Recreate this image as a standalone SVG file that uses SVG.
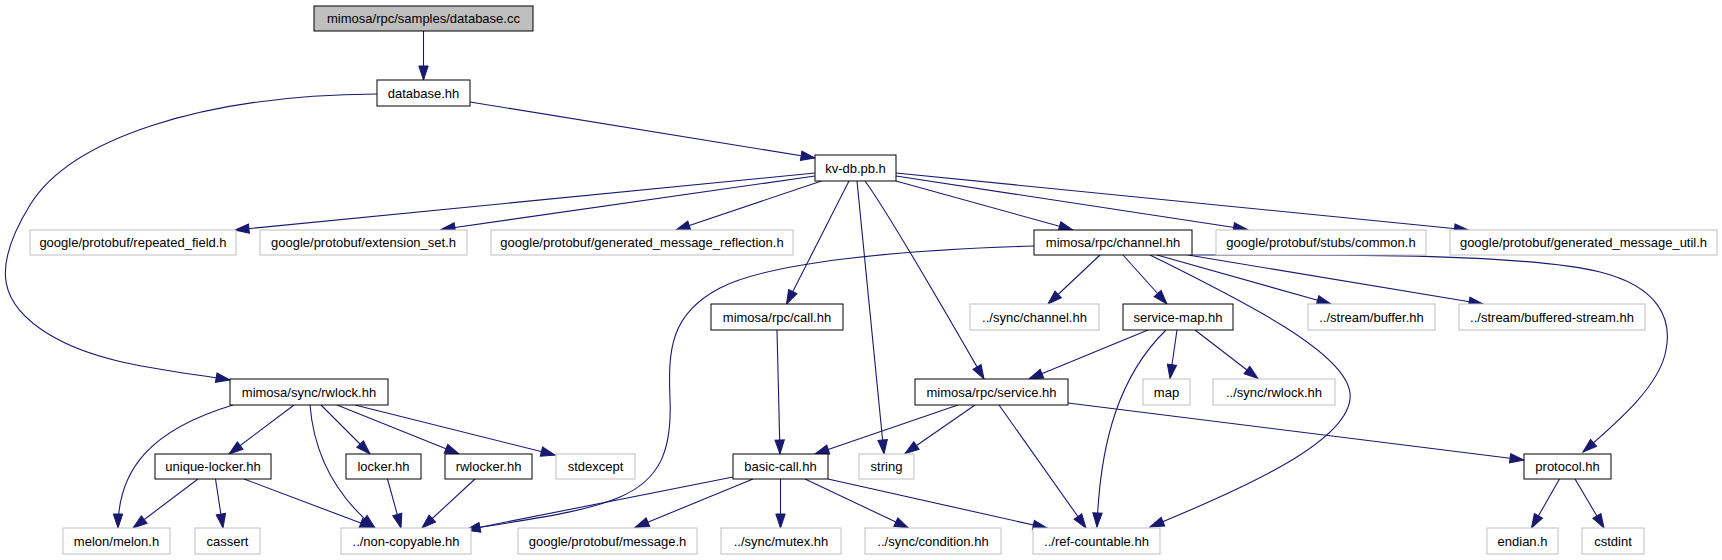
<svg xmlns="http://www.w3.org/2000/svg" width="1722" height="560" viewBox="0 0 1722 560">
<style>
.e{fill:none;stroke:#191970;stroke-width:1.1;marker-end:url(#arr)}
.n rect{fill:#fff;stroke:#000;stroke-width:1}
.x rect{fill:#fff;stroke:#bfbfbf;stroke-width:1}
.r rect{fill:#bfbfbf;stroke:#000;stroke-width:1}
text{font-family:"Liberation Sans",Arial,Helvetica,sans-serif;font-size:13px;fill:#000;text-anchor:middle}
</style>
<defs>
<marker id="arr" markerWidth="16" markerHeight="12" refX="14" refY="5" orient="auto" markerUnits="userSpaceOnUse" overflow="visible">
<path d="M0,0.3 L14,5 L0,9.7 z" fill="#191970" stroke="#191970" stroke-width="1"/>
</marker>
</defs>
<rect width="1722" height="560" fill="#fff"/>
<g id="connectors">
<path class="e" d="M423.5,31 L423.5,80"/>
<path class="e" d="M470,102 L815,158"/>
<path class="e" d="M377,94 C200,95 70,140 30,205 C-10,270 0,305 50,335 C100,365 170,370 230,380"/>
<path class="e" d="M815,173 L235,230"/>
<path class="e" d="M815,176 L441,229.5"/>
<path class="e" d="M821.5,181 L676,230"/>
<path class="e" d="M849,181 L786.5,304"/>
<path class="e" d="M857,181 L884,454"/>
<path class="e" d="M865,181 C890,215 950,320 984,379"/>
<path class="e" d="M896,181 L1073,230"/>
<path class="e" d="M896,176 L1247.5,229.5"/>
<path class="e" d="M896,173 L1468.5,230"/>
<path class="e" d="M1034,246 C900,250 770,262 720,288 C670,314 668,350 670,400 C672,450 660,480 620,497 C580,514 520,520 466,530"/>
<path class="e" d="M1100,255 L1048,304"/>
<path class="e" d="M1123,255 L1167,304"/>
<path class="e" d="M1150,255 C1230,295 1345,350 1350,393 C1355,440 1240,490 1150,527"/>
<path class="e" d="M1157,255 L1331,304"/>
<path class="e" d="M1188,255 L1483,304"/>
<path class="e" d="M1191,255 C1300,255 1520,252 1600,272 C1660,287 1672,320 1666,350 C1660,385 1620,420 1583,452"/>
<path class="e" d="M1148,330 L1029,379"/>
<path class="e" d="M1166,330 C1120,375 1100,440 1097,527"/>
<path class="e" d="M1177,330 L1170,378.5"/>
<path class="e" d="M1195,330 L1258,378.5"/>
<path class="e" d="M777,330 L780,454"/>
<path class="e" d="M958,405 L815,454"/>
<path class="e" d="M975,405 L905,453.5"/>
<path class="e" d="M999,405 L1086,528"/>
<path class="e" d="M1068,403 L1524,460"/>
<path class="e" d="M233,405 C150,430 118,470 118,528"/>
<path class="e" d="M294,405 L229,454"/>
<path class="e" d="M310,405 C314,455 335,495 375,528"/>
<path class="e" d="M321,405 L370,454"/>
<path class="e" d="M337,405 L459,454"/>
<path class="e" d="M355,405 L555,455"/>
<path class="e" d="M198,479 L133,528"/>
<path class="e" d="M215.5,479 L223,528"/>
<path class="e" d="M244,479 L374,528"/>
<path class="e" d="M387.5,479 L401,528"/>
<path class="e" d="M475,479 L422,528"/>
<path class="e" d="M733,477 L466,530"/>
<path class="e" d="M753,479 L635,527.5"/>
<path class="e" d="M780.5,479 L780.5,528"/>
<path class="e" d="M805,479 L908.5,528"/>
<path class="e" d="M828,479 L1047,528"/>
<path class="e" d="M1559.5,479 L1531.5,528"/>
<path class="e" d="M1575,479 L1604,528"/>
</g>
<g id="node_root" class="r"><rect x="314" y="6" width="219" height="25"/><text x="423.5" y="23">mimosa/rpc/samples/database.cc</text></g>
<g id="node_database_hh" class="n"><rect x="377" y="80" width="93" height="26"/><text x="423.5" y="97.5">database.hh</text></g>
<g id="node_kvdb" class="n"><rect x="815" y="155" width="81" height="26"/><text x="855.5" y="172.5">kv-db.pb.h</text></g>
<g id="node_repeated" class="x"><rect x="30" y="230" width="206" height="25"/><text x="133" y="247">google/protobuf/repeated_field.h</text></g>
<g id="node_extension" class="x"><rect x="260" y="230" width="207" height="25"/><text x="363.5" y="247">google/protobuf/extension_set.h</text></g>
<g id="node_reflection" class="x"><rect x="491" y="230" width="302" height="25"/><text x="642" y="247">google/protobuf/generated_message_reflection.h</text></g>
<g id="node_channel" class="n"><rect x="1034" y="230" width="158" height="25"/><text x="1113" y="247">mimosa/rpc/channel.hh</text></g>
<g id="node_stubs" class="x"><rect x="1216" y="230" width="210" height="25"/><text x="1321" y="247">google/protobuf/stubs/common.h</text></g>
<g id="node_util" class="x"><rect x="1450" y="230" width="267" height="25"/><text x="1583.5" y="247">google/protobuf/generated_message_util.h</text></g>
<g id="node_call" class="n"><rect x="711" y="304" width="132" height="26"/><text x="777" y="321.5">mimosa/rpc/call.hh</text></g>
<g id="node_sync_channel" class="x"><rect x="970" y="304" width="129" height="26"/><text x="1034.5" y="321.5">../sync/channel.hh</text></g>
<g id="node_service_map" class="n"><rect x="1123" y="304" width="110" height="26"/><text x="1178" y="321.5">service-map.hh</text></g>
<g id="node_buffer" class="x"><rect x="1308" y="304" width="127" height="26"/><text x="1371.5" y="321.5">../stream/buffer.hh</text></g>
<g id="node_buffered" class="x"><rect x="1459" y="304" width="186" height="26"/><text x="1552" y="321.5">../stream/buffered-stream.hh</text></g>
<g id="node_rwlock" class="n"><rect x="230" y="379" width="158" height="26"/><text x="309" y="396.5">mimosa/sync/rwlock.hh</text></g>
<g id="node_service" class="n"><rect x="915" y="379" width="153" height="26"/><text x="991.5" y="396.5">mimosa/rpc/service.hh</text></g>
<g id="node_map" class="x"><rect x="1143" y="379" width="47" height="26"/><text x="1166.5" y="396.5">map</text></g>
<g id="node_sync_rwlock" class="x"><rect x="1213" y="379" width="122" height="26"/><text x="1274" y="396.5">../sync/rwlock.hh</text></g>
<g id="node_unique_locker" class="n"><rect x="155" y="454" width="116" height="25"/><text x="213" y="471">unique-locker.hh</text></g>
<g id="node_locker" class="n"><rect x="346" y="454" width="75" height="25"/><text x="383.5" y="471">locker.hh</text></g>
<g id="node_rwlocker" class="n"><rect x="445" y="454" width="87" height="25"/><text x="488.5" y="471">rwlocker.hh</text></g>
<g id="node_stdexcept" class="x"><rect x="556" y="454" width="79" height="25"/><text x="595.5" y="471">stdexcept</text></g>
<g id="node_basic_call" class="n"><rect x="733" y="454" width="95" height="25"/><text x="780.5" y="471">basic-call.hh</text></g>
<g id="node_string" class="x"><rect x="859" y="454" width="55" height="25"/><text x="886.5" y="471">string</text></g>
<g id="node_protocol" class="n"><rect x="1524" y="454" width="87" height="25"/><text x="1567.5" y="471">protocol.hh</text></g>
<g id="node_melon" class="x"><rect x="63" y="528" width="107" height="26"/><text x="116.5" y="545.5">melon/melon.h</text></g>
<g id="node_cassert" class="x"><rect x="195" y="528" width="65" height="26"/><text x="227.5" y="545.5">cassert</text></g>
<g id="node_noncopyable" class="x"><rect x="341" y="528" width="130" height="26"/><text x="406" y="545.5">../non-copyable.hh</text></g>
<g id="node_message" class="x"><rect x="518" y="528" width="179" height="26"/><text x="607.5" y="545.5">google/protobuf/message.h</text></g>
<g id="node_mutex" class="x"><rect x="721" y="528" width="120" height="26"/><text x="781" y="545.5">../sync/mutex.hh</text></g>
<g id="node_condition" class="x"><rect x="865" y="528" width="136" height="26"/><text x="933" y="545.5">../sync/condition.hh</text></g>
<g id="node_refcountable" class="x"><rect x="1033" y="528" width="127" height="26"/><text x="1096.5" y="545.5">../ref-countable.hh</text></g>
<g id="node_endian" class="x"><rect x="1487" y="528" width="71" height="26"/><text x="1522.5" y="545.5">endian.h</text></g>
<g id="node_cstdint" class="x"><rect x="1582" y="528" width="62" height="26"/><text x="1613" y="545.5">cstdint</text></g>
</svg>
